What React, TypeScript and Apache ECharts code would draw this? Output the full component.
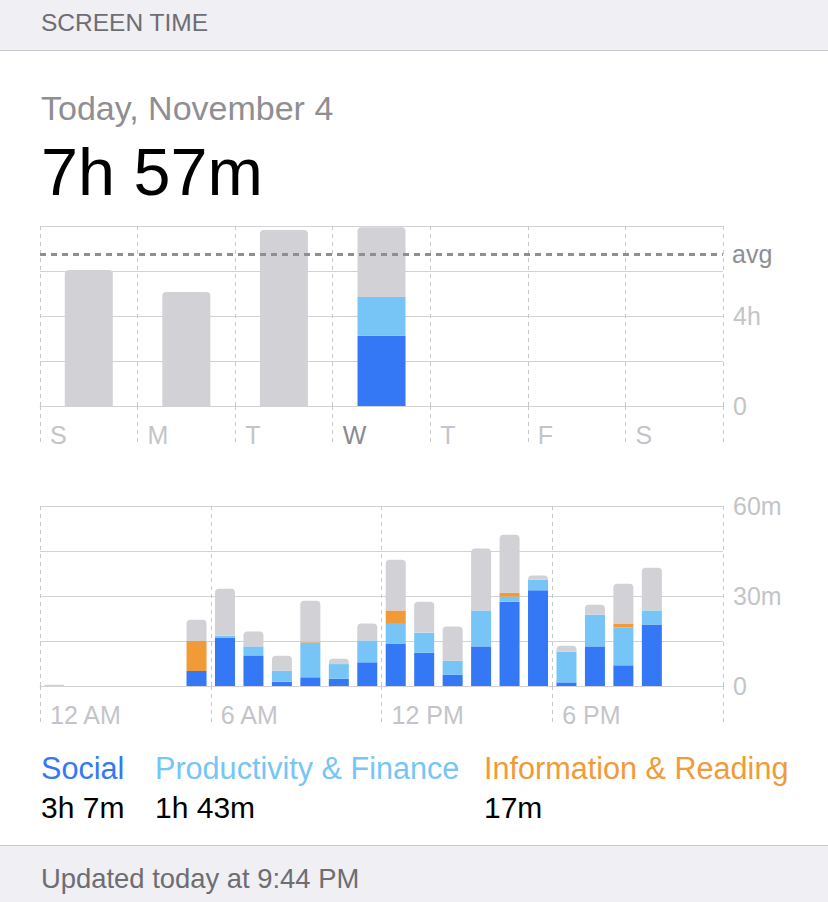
import React, { useEffect, useRef } from 'react';
import * as echarts from 'echarts';

// ---------- data ----------
const weekDays = ['S', 'M', 'T', 'W', 'T', 'F', 'S'];
const weekBoundaryLabels = ['S', 'M', 'T', 'W', 'T', 'F', 'S', ''];
// hours
const weekSocial = [0, 0, 0, 3.12, 0, 0, 0];
const weekProductivity = [0, 0, 0, 1.72, 0, 0, 0];
const weekOther = [6.04, 5.07, 7.82, 3.11, 0, 0, 0];
const weekAverage = 6.74;
const todayIndex = 3;

const hourCategories = [
  '0', '1', '2', '3', '4', '5', '6', '7', '8', '9', '10', '11',
  '12', '13', '14', '15', '16', '17', '18', '19', '20', '21', '22', '23',
];
const hourBoundaryLabels = [
  '12 AM', '', '', '', '', '', '6 AM', '', '', '', '', '',
  '12 PM', '', '', '', '', '', '6 PM', '', '', '', '', '', '',
];
// minutes
const hourSocial = [0, 0, 0, 0, 0, 5, 16.2, 10.2, 1.4, 2.9, 2.4, 7.9, 14.2, 11.1, 3.8, 13.2, 28.1, 31.9, 1.2, 13.2, 6.9, 20.5, 0, 0];
const hourProductivity = [0, 0, 0, 0, 0, 0, 0.6, 3, 3.7, 11.6, 4.9, 7.3, 6.5, 6.7, 4.6, 12, 1.7, 3.5, 10.2, 10.6, 12.6, 4.7, 0, 0];
const hourInformation = [0, 0, 0, 0, 0, 10, 0, 0, 0, 0.3, 0, 0, 4.5, 0, 0, 0, 1.3, 0, 0, 0, 1.2, 0, 0, 0];
const hourOther = [0.4, 0, 0, 0, 0, 7.1, 15.6, 5, 5, 13.6, 1.8, 5.6, 16.9, 10.3, 11.4, 20.6, 19.3, 1.4, 2, 3.3, 13.4, 14.2, 0, 0];

const legendNames = ['Social', 'Productivity & Finance', 'Information & Reading'];
const legendTotals = ['3h 7m', '1h 43m', '17m'];

const headerTitle = 'SCREEN TIME';
const dateTitle = 'Today, November 4';
const totalTitle = '7h 57m';
const footerText = 'Updated today at 9:44 PM';

// ---------- styles ----------
const FONT = '"Liberation Sans", Arial, sans-serif';
const C_SOCIAL = '#3478F6';
const C_PROD = '#76C5F6';
const C_INFO = '#F19A38';
const C_OTHER = '#D1D1D6';
const C_GRID = '#D1D1D6';
const C_DASH = '#C8C8CC';
const C_LABEL = '#C4C4C8';
const legendColors = [C_SOCIAL, C_PROD, C_INFO];
const legendX = [41, 155, 484];

export default function App() {
  const ref = useRef<HTMLDivElement>(null);

  useEffect(() => {
    if (!ref.current) return;
    const chart = echarts.init(ref.current, undefined, { renderer: 'svg' });

    const dashLine = { color: C_DASH, width: 1, type: [4, 4] as any };

    const option: any = {
      animation: false,
      backgroundColor: '#ffffff',
      textStyle: { fontFamily: FONT },
      grid: [
        { left: 40, top: 226, width: 683, height: 180 },
        { left: 40, top: 506, width: 683, height: 180 },
      ],
      xAxis: [
        {
          gridIndex: 0, type: 'category', data: weekDays, position: 'bottom',
          axisLine: { show: true, lineStyle: { color: C_GRID, width: 1 } },
          axisTick: { show: false }, axisLabel: { show: false }, splitLine: { show: false },
        },
        {
          gridIndex: 0, type: 'category', data: weekBoundaryLabels, position: 'bottom', boundaryGap: false,
          axisLine: { show: false },
          axisTick: { show: true, length: 40, lineStyle: dashLine, interval: 0 },
          splitLine: { show: true, lineStyle: dashLine, interval: 0 },
          axisLabel: {
            show: true, interval: 0, align: 'left', padding: [0, 0, 0, 10], margin: 16,
            fontSize: 25, fontFamily: FONT,
            color: (_v: any, i: number) => (i === todayIndex ? '#8A8A8E' : C_LABEL),
          },
        },
        {
          gridIndex: 1, type: 'category', data: hourCategories, position: 'bottom',
          axisLine: { show: true, lineStyle: { color: C_GRID, width: 1 } },
          axisTick: { show: false }, axisLabel: { show: false }, splitLine: { show: false },
        },
        {
          gridIndex: 1, type: 'category', data: hourBoundaryLabels, position: 'bottom', boundaryGap: false,
          axisLine: { show: false },
          axisTick: { show: true, length: 40, lineStyle: dashLine, interval: (i: number) => i % 6 === 0 },
          splitLine: { show: true, lineStyle: dashLine, interval: (i: number) => i % 6 === 0 },
          axisLabel: {
            show: true, interval: 0, align: 'left', padding: [0, 0, 0, 10], margin: 16,
            fontSize: 25, fontFamily: FONT, color: C_LABEL,
          },
        },
      ],
      yAxis: [
        {
          gridIndex: 0, type: 'value', position: 'right', min: 0, max: 8, interval: 2,
          axisLine: { show: false }, axisTick: { show: false },
          splitLine: { show: true, lineStyle: { color: C_GRID, width: 1 } },
          axisLabel: {
            margin: 10, fontSize: 25, fontFamily: FONT, color: C_LABEL,
            formatter: (v: number) => (v === 0 ? '0' : v === 4 ? '4h' : ''),
          },
        },
        {
          gridIndex: 1, type: 'value', position: 'right', min: 0, max: 60, interval: 15,
          axisLine: { show: false }, axisTick: { show: false },
          splitLine: { show: true, lineStyle: { color: C_GRID, width: 1 } },
          axisLabel: {
            margin: 10, fontSize: 25, fontFamily: FONT, color: C_LABEL,
            formatter: (v: number) => (v === 0 ? '0' : v % 30 === 0 ? `${v}m` : ''),
          },
        },
      ],
      series: [
        { type: 'bar', name: 'Social', xAxisIndex: 0, yAxisIndex: 0, stack: 'w', barWidth: 48, data: weekSocial, itemStyle: { color: C_SOCIAL } },
        { type: 'bar', name: 'Productivity & Finance', xAxisIndex: 0, yAxisIndex: 0, stack: 'w', barWidth: 48, data: weekProductivity, itemStyle: { color: C_PROD } },
        {
          type: 'bar', name: 'Other', xAxisIndex: 0, yAxisIndex: 0, stack: 'w', barWidth: 48, data: weekOther,
          itemStyle: { color: C_OTHER, borderRadius: [4, 4, 0, 0] },
          markLine: {
            silent: true, symbol: ['none', 'none'],
            lineStyle: { color: '#8E8E93', width: 3, type: [6, 5] },
            label: { show: true, position: 'end', formatter: 'avg', color: '#8E8E93', fontSize: 25, fontFamily: FONT, distance: 9 },
            data: [{ yAxis: weekAverage }],
          },
        },
        { type: 'bar', name: 'Social', xAxisIndex: 2, yAxisIndex: 1, stack: 'h', barWidth: 20, data: hourSocial, itemStyle: { color: C_SOCIAL } },
        { type: 'bar', name: 'Productivity & Finance', xAxisIndex: 2, yAxisIndex: 1, stack: 'h', barWidth: 20, data: hourProductivity, itemStyle: { color: C_PROD } },
        { type: 'bar', name: 'Information & Reading', xAxisIndex: 2, yAxisIndex: 1, stack: 'h', barWidth: 20, data: hourInformation, itemStyle: { color: C_INFO } },
        { type: 'bar', name: 'Other', xAxisIndex: 2, yAxisIndex: 1, stack: 'h', barWidth: 20, data: hourOther, itemStyle: { color: C_OTHER, borderRadius: [4, 4, 0, 0] } },
      ],
      graphic: [
        { type: 'rect', z: -10, shape: { x: 0, y: 0, width: 828, height: 50 }, style: { fill: '#EFEFF4' } },
        { type: 'line', shape: { x1: 0, y1: 50.5, x2: 828, y2: 50.5 }, style: { stroke: '#C8C7CC', lineWidth: 1 } },
        { type: 'text', x: 41, y: 22, style: { text: headerTitle, fill: '#6D6D72', font: `24.5px ${FONT}`, verticalAlign: 'middle' } },
        { type: 'text', x: 41, y: 107.5, style: { text: dateTitle, fill: '#8E8E93', font: `34px ${FONT}`, verticalAlign: 'middle' } },
        { type: 'text', x: 41, y: 172, style: { text: totalTitle, fill: '#000000', font: `66.5px ${FONT}`, verticalAlign: 'middle' } },
        ...legendNames.map((n, i) => ({
          type: 'text', x: legendX[i], y: 767.5,
          style: { text: n, fill: legendColors[i], font: `30.6px ${FONT}`, verticalAlign: 'middle' },
        })),
        ...legendTotals.map((t, i) => ({
          type: 'text', x: legendX[i], y: 807.5,
          style: { text: t, fill: '#000000', font: `30px ${FONT}`, verticalAlign: 'middle' },
        })),
        { type: 'rect', z: -10, shape: { x: 0, y: 846, width: 828, height: 56 }, style: { fill: '#EFEFF4' } },
        { type: 'line', shape: { x1: 0, y1: 845.5, x2: 828, y2: 845.5 }, style: { stroke: '#C8C7CC', lineWidth: 1 } },
        { type: 'text', x: 41, y: 878, style: { text: footerText, fill: '#6D6D72', font: `27.4px ${FONT}`, verticalAlign: 'middle' } },
      ],
    };

    chart.setOption(option);
    return () => chart.dispose();
  }, []);

  return (
    <div
      ref={ref}
      style={{ position: 'fixed', left: 0, top: 0, width: 828, height: 902, background: '#fff' }}
    />
  );
}
